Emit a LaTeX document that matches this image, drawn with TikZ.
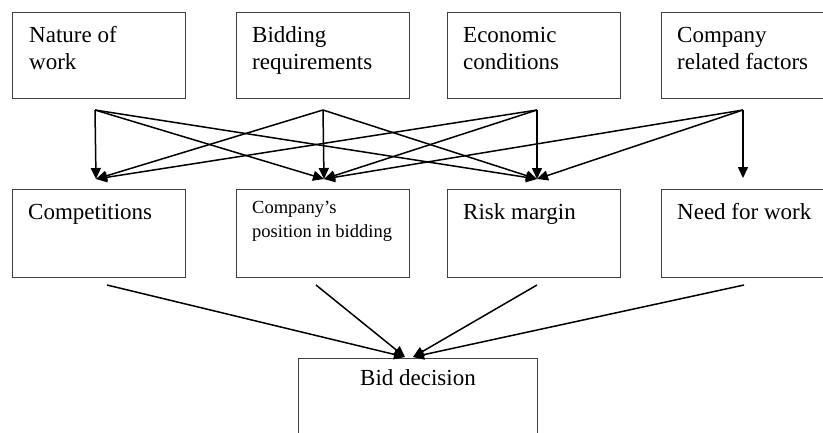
\documentclass[tikz,border=0pt]{standalone}
\usepackage{fontspec}
\setmainfont{Liberation Serif}
\usetikzlibrary{arrows.meta}
\begin{document}
\begin{tikzpicture}[x=1pt,y=-1pt,
  box/.style={draw=black!75, line width=1.1pt, rectangle, inner sep=0pt, anchor=north west},
  lbl/.style={anchor=north west, inner sep=0pt, align=left, font=\fontsize{23}{27}\selectfont},
  smalllbl/.style={anchor=north west, inner sep=0pt, align=left, font=\fontsize{18.5}{24}\selectfont},
  link/.style={line width=1.5pt, -{Triangle[length=11pt,width=10pt]}}]
\useasboundingbox (0,0) rectangle (823,432);
\clip (0,0) rectangle (823,432);

% top row: factors
\node[box, minimum width=173pt, minimum height=86pt] (nat) at (12,12) {};
\node[box, minimum width=173pt, minimum height=86pt] (bid) at (236,12) {};
\node[box, minimum width=173pt, minimum height=86pt] (eco) at (447,12) {};
\node[box, minimum width=180pt, minimum height=86pt] (com) at (661,12) {};
\node[lbl] (natT) at (29,23.1) {\strut Nature of\\work};
\node[lbl] (bidT) at (252,23.1) {\strut Bidding\\requirements};
\node[lbl] (ecoT) at (463,23.1) {\strut Economic\\conditions};
\node[lbl] (comT) at (677,23.1) {\strut Company\\related factors};

% middle row: considerations
\node[box, minimum width=173pt, minimum height=88pt] (cmp) at (12,189) {};
\node[box, minimum width=173pt, minimum height=88pt] (pos) at (236,189) {};
\node[box, minimum width=173pt, minimum height=88pt] (rsk) at (447,189) {};
\node[box, minimum width=180pt, minimum height=88pt] (ned) at (661,189) {};
\node[lbl] (cmpT) at (28,200.1) {\strut Competitions};
\node[smalllbl] (posT) at (252,196.2) {\strut Company’s\\position in bidding};
\node[lbl] (rskT) at (463,200.1) {\strut Risk margin};
\node[lbl] (nedT) at (677,200.1) {\strut Need for work};

% bottom: decision
\node[box, minimum width=239pt, minimum height=100pt] (dec) at (298,358) {};
\node[anchor=base, inner sep=0pt, font=\fontsize{23}{27}\selectfont] (decT) at (418,385) {Bid decision};

% connector end points
\coordinate (natO) at (95,110);
\coordinate (bidO) at (323,110);
\coordinate (ecoO) at (537,110);
\coordinate (comO) at (743,110);
\coordinate (cmpI) at (96,179);
\coordinate (posI) at (324,179);
\coordinate (rskI) at (537,179);
\coordinate (nedI) at (743,178);
\coordinate (cmpO) at (107,285);
\coordinate (posO) at (316,285);
\coordinate (rskO) at (537,285);
\coordinate (nedO) at (744,285);
\coordinate (decL) at (405,357);
\coordinate (decR) at (413,357);

% factors to considerations
\draw[link] (natO) -- (cmpI);
\draw[link] (natO) -- (posI);
\draw[link] (natO) -- (rskI);
\draw[link] (bidO) -- (cmpI);
\draw[link] (bidO) -- (posI);
\draw[link] (bidO) -- (rskI);
\draw[link] (ecoO) -- (cmpI);
\draw[link] (ecoO) -- (posI);
\draw[link] (ecoO) -- (rskI);
\draw[link] (comO) -- (posI);
\draw[link] (comO) -- (rskI);
\draw[link] (comO) -- (nedI);

% considerations to decision
\draw[link] (cmpO) -- (decL);
\draw[link] (posO) -- (decL);
\draw[link] (rskO) -- (decR);
\draw[link] (nedO) -- (decR);
\end{tikzpicture}
\end{document}
